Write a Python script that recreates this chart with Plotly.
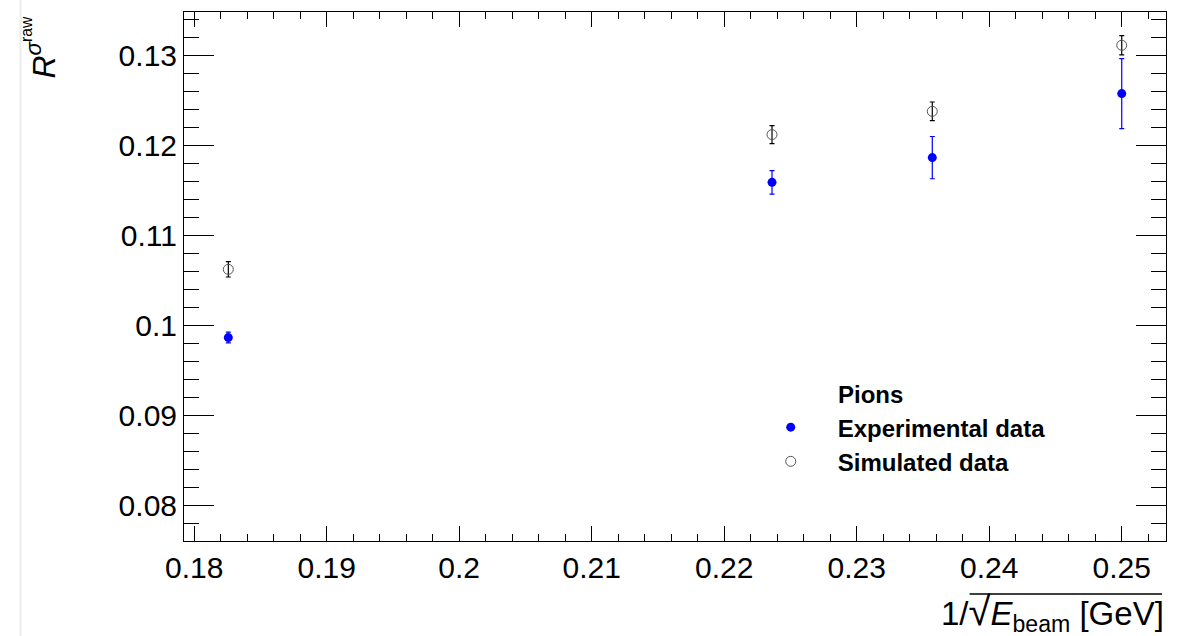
import plotly.graph_objects as go

# Beam energies in GeV and the corresponding 1/sqrt(E) positions
beam_energy = [30, 20, 18, 16]
inv_sqrt_e = [1 / e ** 0.5 for e in beam_energy]

# Resolution ratio R (raw sigma) with uncertainties
exp_r = [0.09863, 0.11590, 0.11865, 0.12577]
exp_err = [0.00060, 0.00130, 0.00235, 0.00390]
sim_r = [0.10622, 0.12121, 0.12380, 0.13115]
sim_err = [0.00085, 0.00100, 0.00104, 0.00108]

x_ticks = [0.18, 0.19, 0.20, 0.21, 0.22, 0.23, 0.24, 0.25]
x_ticktext = ["0.18", "0.19", "0.2", "0.21", "0.22", "0.23", "0.24", "0.25"]
y_ticks = [0.08, 0.09, 0.10, 0.11, 0.12, 0.13]
y_ticktext = ["0.08", "0.09", "0.1", "0.11", "0.12", "0.13"]

FONT = "Liberation Sans, Arial, Helvetica, sans-serif"

fig = go.Figure()

fig.add_trace(go.Scatter(
    x=inv_sqrt_e, y=sim_r, mode="markers", name="<b>Simulated data</b>",
    marker=dict(symbol="circle-open", size=10, color="#555555",
                line=dict(width=1, color="#555555")),
    error_y=dict(type="data", array=sim_err, color="black",
                 thickness=1.2, width=2.5),
))
fig.add_trace(go.Scatter(
    x=inv_sqrt_e, y=exp_r, mode="markers", name="<b>Experimental data</b>",
    marker=dict(symbol="circle", size=9, color="#0000ff"),
    error_y=dict(type="data", array=exp_err, color="#0000ff",
                 thickness=1.2, width=2.5),
))

axis_common = dict(
    showgrid=False, zeroline=False, showline=True, linecolor="black",
    linewidth=1, mirror="ticks", ticks="inside", tickcolor="black",
    tickwidth=1, tickfont=dict(family=FONT, size=30, color="black"),
)

fig.update_xaxes(
    range=[0.17923, 0.25334], tickmode="array", tickvals=x_ticks,
    ticktext=x_ticktext, ticklen=15,
    minor=dict(dtick=0.002, ticks="inside", ticklen=7, tickcolor="black",
               tickwidth=1, showgrid=False),
    **axis_common,
)
fig.update_yaxes(
    range=[0.0760, 0.13485], tickmode="array", tickvals=y_ticks,
    ticktext=y_ticktext, ticklen=30,
    minor=dict(dtick=0.002, ticks="inside", ticklen=15, tickcolor="black",
               tickwidth=1, showgrid=False),
    **axis_common,
)

# Axis titles drawn as annotations to allow the radical and nested scripts
fig.add_annotation(
    text="1/<span style='font-size:40px'>√</span><i>E</i><sub>beam</sub> [GeV]",
    xref="paper", yref="paper",
    x=1.0, y=-0.0865, xanchor="right", yanchor="top", showarrow=False,
    font=dict(family=FONT, size=33, color="black"),
)
# vinculum of the square root
fig.add_shape(type="line", xref="paper", yref="paper",
              x0=0.800, x1=0.996, y0=-0.1, y1=-0.1,
              line=dict(color="black", width=1.5))
fig.add_annotation(
    text="<i>R</i><sup><i>σ</i><sup>raw</sup></sup>", xref="paper",
    yref="paper", x=-0.147, y=0.934, xanchor="center", yanchor="middle",
    textangle=-90, showarrow=False,
    font=dict(family=FONT, size=32, color="black"),
)
fig.add_annotation(
    text="<b>Pions</b>", xref="paper", yref="paper", x=0.664, y=0.277,
    xanchor="left", yanchor="middle", showarrow=False,
    font=dict(family=FONT, size=24, color="black"),
)
# faint canvas edge on the left
fig.add_shape(type="line", xref="paper", yref="paper",
              x0=-0.1665, x1=-0.1665, y0=-0.2, y1=1.03,
              line=dict(color="#ebebeb", width=2))

fig.update_layout(
    width=1185, height=636,
    margin=dict(l=184, r=19, t=12, b=95),
    paper_bgcolor="white", plot_bgcolor="white",
    showlegend=True,
    legend=dict(
        x=0.570, y=0.257, xanchor="left", yanchor="top",
        traceorder="reversed", bgcolor="rgba(0,0,0,0)",
        font=dict(family=FONT, size=24, color="black"),
        itemwidth=84,
    ),
)

fig.write_html("out.html")
